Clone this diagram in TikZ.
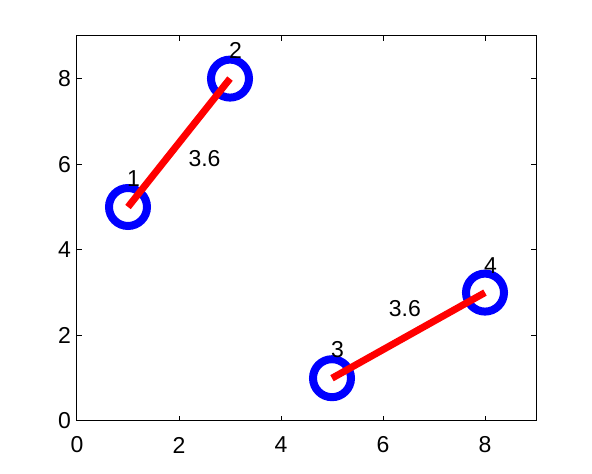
\documentclass[tikz,border=0pt]{standalone}
\usepackage{fontspec}
\setmainfont{Liberation Sans}
\begin{document}
\begin{tikzpicture}[x=51pt,y=42.8pt,
  pt/.style={circle,draw=blue,line width=8pt,minimum size=38pt,inner sep=0pt},
  edge/.style={red,line width=7pt},
  lbl/.style={font=\fontsize{23}{23}\selectfont,inner sep=0pt},
  axisline/.style={black,line width=1pt},
  ]
\useasboundingbox (-77pt,-53pt) rectangle (515pt,421pt);
\fill[white] (-77pt,-53pt) rectangle (515pt,421pt);
% axes box
\draw[axisline] (0,0) rectangle (9,9);
\foreach \x in {0,2,4,6,8} {
  \draw[axisline] (\x,0) -- ++(0,5pt);
  \draw[axisline] (\x,9) -- ++(0,-5pt);
  \node[lbl,yshift=-24pt] (xt\x) at (\x,0) {\x};
}
\foreach \y in {0,2,4,6,8} {
  \draw[axisline] (0,\y) -- ++(5pt,0);
  \draw[axisline] (9,\y) -- ++(-5pt,0);
  \node[lbl,anchor=east,xshift=-6pt] (yt\y) at (0,\y) {\y};
}
% points
\node[pt] (p1) at (1,5) {};
\node[pt] (p2) at (3,8) {};
\node[pt] (p3) at (5,1) {};
\node[pt] (p4) at (8,3) {};
% edges
\draw[edge] (p1.center) -- (p2.center);
\draw[edge] (p3.center) -- (p4.center);
% point labels
\node[lbl,anchor=west] (l1) at (0.98,5.66) {1};
\node[lbl,anchor=west] (l2) at (2.98,8.66) {2};
\node[lbl,anchor=west] (l3) at (4.98,1.66) {3};
\node[lbl,anchor=west] (l4) at (7.98,3.64) {4};
% edge labels
\node[lbl] (e12) at (2.50,6.12) {3.6};
\node[lbl] (e34) at (6.43,2.62) {3.6};
\end{tikzpicture}
\end{document}
